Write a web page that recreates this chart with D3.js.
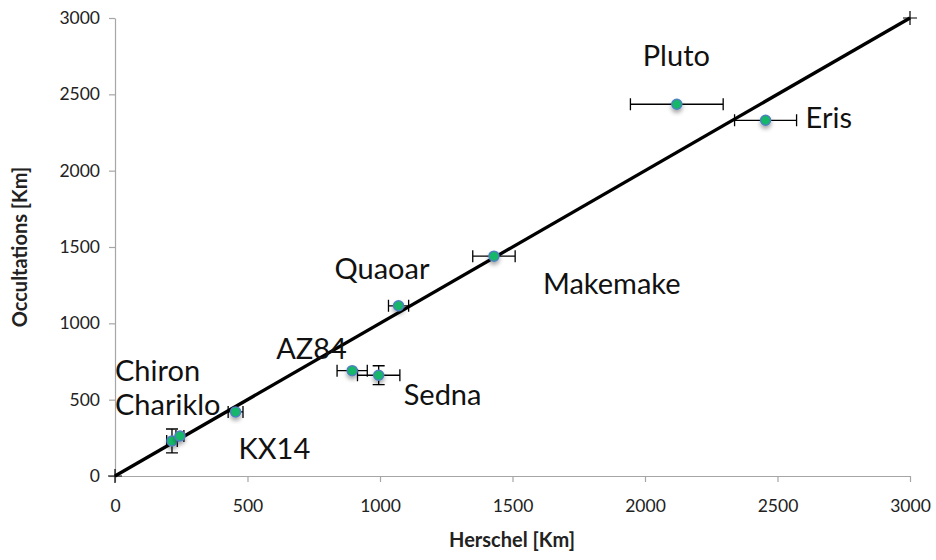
<!DOCTYPE html>
<html>
<head>
<meta charset="utf-8">
<script src="https://cdn.jsdelivr.net/npm/d3@7"></script>
<style>
  html, body { margin: 0; padding: 0; background: #fff; }
  svg text { font-family: Lato, "Liberation Sans", sans-serif; }
</style>
</head>
<body>
<svg id="chart" width="936" height="560"></svg>
<script>
// Diameters of trans-Neptunian objects and Centaurs: Herschel vs stellar occultations (km)
const names       = ["Chiron", "Chariklo", "KX14", "AZ84", "Sedna", "Quaoar", "Makemake", "Eris", "Pluto"];
const herschel    = [215, 245, 455, 895, 995, 1070, 1430, 2455, 2120];
const herschelErr = [20, 15, 28, 57, 80, 38, 80, 117, 175];
const occultation = [230, 262, 420, 690, 660, 1115, 1440, 2330, 2435];
const occultErr   = [78, 0, 0, 0, 62, 0, 0, 0, 0];
const ticks       = [0, 500, 1000, 1500, 2000, 2500, 3000];
const identity    = [0, 3000];

const svg = d3.select("#chart");
const x = d3.scaleLinear().domain([0, 3000]).range([115, 910]);
const y = d3.scaleLinear().domain([0, 3000]).range([476, 18]);

const defs = svg.append("defs");
const f = defs.append("filter").attr("id", "shadow")
  .attr("x", "-50%").attr("y", "-50%").attr("width", "200%").attr("height", "220%");
f.append("feDropShadow").attr("dx", 0).attr("dy", 3).attr("stdDeviation", 2)
  .attr("flood-color", "#000").attr("flood-opacity", 0.35);

// Axes
const fmt = d3.format("d");
const xAxis = svg.append("g").attr("transform", `translate(0,${y(0)})`)
  .call(d3.axisBottom(x).tickValues(ticks).tickFormat(fmt).tickSize(6).tickPadding(18).tickSizeOuter(0));
const yAxis = svg.append("g").attr("transform", `translate(${x(0)},0)`)
  .call(d3.axisLeft(y).tickValues(ticks).tickFormat(fmt).tickSize(6).tickPadding(9).tickSizeOuter(0));
[xAxis, yAxis].forEach(g => {
  g.select(".domain").attr("stroke", "#a6a6a6").attr("stroke-width", 1.2);
  g.selectAll(".tick line").attr("stroke", "#a6a6a6").attr("stroke-width", 1.2);
  g.selectAll(".tick text").attr("fill", "#222").style("font-size", "17.5px");
});

svg.append("text").attr("x", 512).attr("y", 547).attr("text-anchor", "middle")
  .style("font-size", "20px").style("font-weight", "bold").attr("fill", "#222")
  .text("Herschel [Km]");
svg.append("text").attr("transform", `translate(27,${(y(0) + y(3000)) / 2}) rotate(-90)`)
  .attr("text-anchor", "middle")
  .style("font-size", "20px").style("font-weight", "bold").attr("fill", "#222")
  .text("Occultations [Km]");

// 1:1 reference line with cross markers at its ends
svg.append("line")
  .attr("x1", x(identity[0])).attr("y1", y(identity[0]))
  .attr("x2", x(identity[1])).attr("y2", y(identity[1]))
  .attr("stroke", "#000").attr("stroke-width", 3.3);
identity.forEach(v => {
  const cx = x(v), cy = y(v);
  svg.append("path").attr("d", `M${cx - 7},${cy}H${cx + 7}M${cx},${cy - 7}V${cy + 7}`)
    .attr("stroke", "#000").attr("stroke-width", 1.2);
});

const data = names.map((n, i) => ({
  name: n, h: herschel[i], he: herschelErr[i], o: occultation[i], oe: occultErr[i]
}));

// Error bars
const eb = svg.append("g").attr("stroke", "#000").attr("stroke-width", 1.3).attr("fill", "none");
data.forEach(d => {
  const cy = y(d.o), cx = x(d.h), cap = 6;
  if (d.he > 0) {
    const x0 = x(d.h - d.he), x1 = x(d.h + d.he);
    eb.append("path").attr("d",
      `M${x0},${cy}H${x1}M${x0},${cy - cap}V${cy + cap}M${x1},${cy - cap}V${cy + cap}`);
  }
  if (d.oe > 0) {
    const y0 = y(d.o - d.oe), y1 = y(d.o + d.oe);
    eb.append("path").attr("d",
      `M${cx},${y0}V${y1}M${cx - cap},${y0}H${cx + cap}M${cx - cap},${y1}H${cx + cap}`);
  }
});

// Points
svg.append("g").selectAll("circle").data(data).join("circle")
  .attr("cx", d => x(d.h)).attr("cy", d => y(d.o)).attr("r", 5)
  .attr("fill", "#12b768").attr("stroke", "#4f81bd").attr("stroke-width", 1.5)
  .attr("filter", "url(#shadow)");

// Object names
const labelOffset = {
  Pluto: [-34, -38], Eris: [40, 8], Makemake: [49, 38], Quaoar: [-64, -27],
  AZ84: [-76, -12], Sedna: [25, 30], KX14: [3, 47], Chiron: [-57, -60], Chariklo: [-65, -21]
};
svg.append("g").selectAll("text").data(data).join("text")
  .attr("x", d => x(d.h) + labelOffset[d.name][0])
  .attr("y", d => y(d.o) + labelOffset[d.name][1])
  .style("font-size", "29px").attr("fill", "#111")
  .text(d => d.name);
</script>
</body>
</html>
